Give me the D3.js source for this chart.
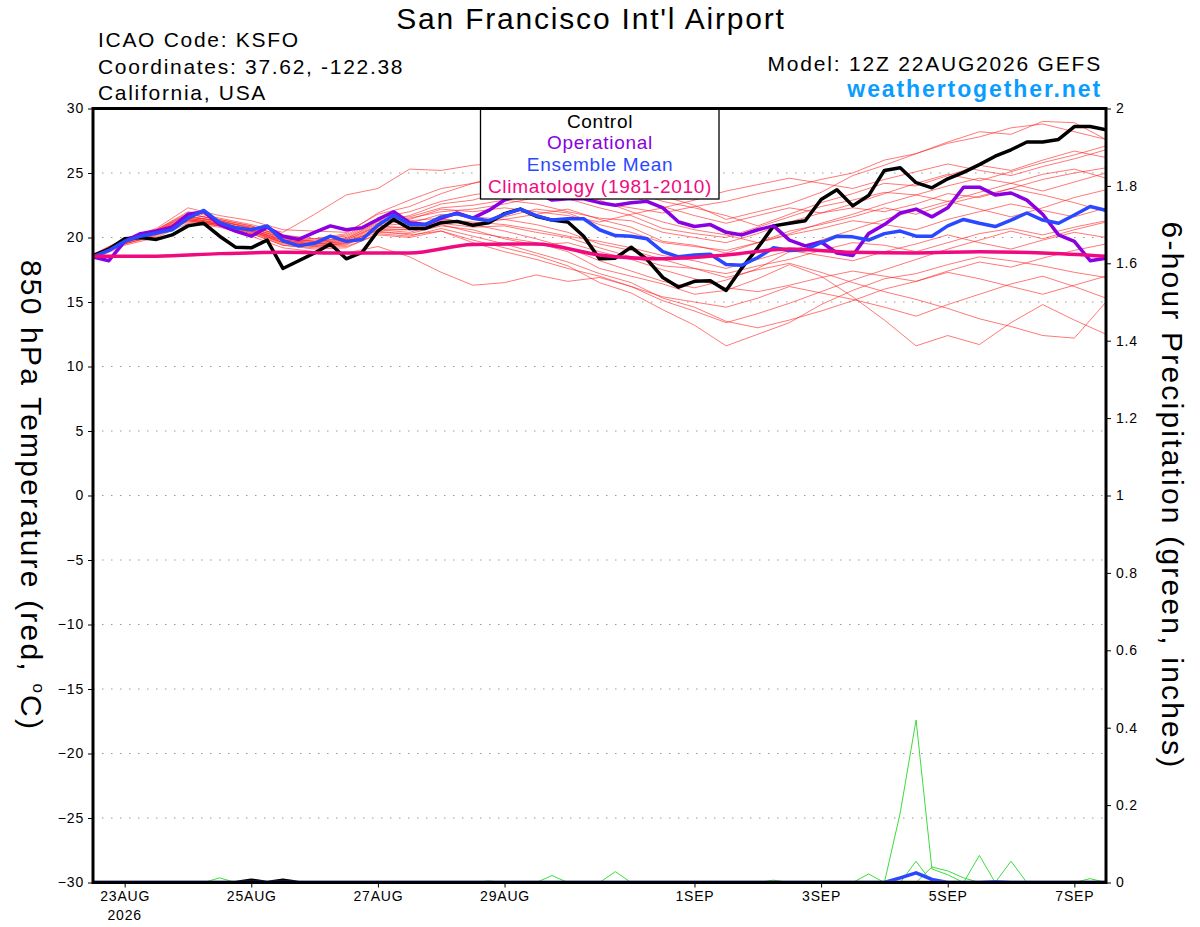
<!doctype html>
<html lang="en">
<head>
<meta charset="utf-8">
<title>San Francisco Int'l Airport - GEFS</title>
<style>
  body{margin:0;background:#fff;}
  svg text{font-family:"Liberation Sans", Arial, Helvetica, sans-serif;}
</style>
</head>
<body>
<script src="https://cdn.jsdelivr.net/npm/d3@7/dist/d3.min.js"></script>
<script>

// run start, every series counts steps from here
var runStart = "2026-08-22T12:00:00Z";

// 850 hPa temperature, 6-hourly (65 steps)
var control = [18.6,19.1,19.9,20.0,19.85,20.2,20.9,21.1,20.1,19.25,19.2,19.8,17.6,18.2,18.8,19.5,18.35,18.85,20.5,21.4,
  20.7,20.7,21.15,21.25,20.95,21.15,21.85,22.2,21.65,21.35,21.2,20.1,18.35,18.4,19.25,18.3,16.9,16.15,16.6,16.65,
  15.9,17.65,19.2,20.9,21.1,21.3,22.95,23.7,22.45,23.25,25.2,25.4,24.25,23.85,24.55,25.05,25.65,26.3,26.8,27.4,
  27.4,27.6,28.6,28.6,28.35];

var operational = [18.5,18.2,19.7,20.3,20.5,20.8,21.8,22.0,21.0,20.5,20.1,20.8,20.1,19.85,20.4,20.9,20.6,20.75,21.4,22.0,
  21.15,21.0,21.5,21.9,21.5,22.1,22.9,23.3,23.5,22.9,23.0,23.0,22.7,22.5,22.7,22.8,22.3,21.2,20.85,21.0,
  20.4,20.2,20.6,20.9,19.8,19.35,19.65,18.8,18.6,20.3,21.0,21.9,22.2,21.6,22.3,23.9,23.9,23.3,23.45,22.9,
  21.8,20.2,19.7,18.2,18.4];

var ensMean = [18.5,19.0,19.7,20.1,20.35,20.6,21.5,22.1,21.15,20.75,20.6,20.9,19.75,19.35,19.55,20.1,19.7,19.85,20.95,21.75,
  21.0,21.0,21.6,21.85,21.5,21.3,21.8,22.2,21.7,21.35,21.45,21.45,20.6,20.15,20.1,19.9,18.9,18.5,18.65,18.7,
  17.9,17.85,18.45,19.2,19.0,19.05,19.6,20.1,20.05,19.8,20.3,20.5,20.1,20.1,20.9,21.4,21.1,20.85,21.35,21.9,
  21.35,21.1,21.75,22.4,22.1];

// 1981-2010 climatology, once a day
var climatology = [18.55,18.55,18.75,18.85,18.8,18.8,19.45,19.5,18.65,18.35,18.65,19.1,18.85,18.8,18.9,18.8,18.55];

// ensemble members, 12-hourly (33 steps each)
var members = [
  [18.6,19.9,20.6,22.0,21.5,21.0,20.4,21.8,23.3,23.8,25.3,25.2,25.6,25.8,25.2,24.6,24.9,24.0,23.2,22.5,21.4,22.0,22.6,23.5,24.8,25.6,26.5,27.3,27.8,28.5,28.8,28.2,27.6],
  [18.4,19.5,20.2,21.3,20.9,20.3,19.4,19.2,19.3,20.2,20.0,20.5,19.8,19.2,18.6,17.8,16.5,15.7,14.4,13.2,11.6,12.5,13.4,14.8,15.9,16.8,17.2,17.9,18.5,18.2,17.8,17.3,16.9],
  [18.5,19.8,20.5,21.8,21.4,20.9,20.1,19.9,20.1,21.4,21.6,22.3,22.5,22.9,22.6,22.0,21.5,21.3,20.4,20.0,19.6,20.3,21.2,21.9,22.3,22.0,22.6,23.4,23.1,23.8,24.5,25.0,25.4],
  [18.3,19.4,20.0,21.1,20.8,20.1,19.2,18.9,18.8,19.3,18.5,17.3,16.3,16.5,17.1,16.6,16.9,16.2,15.4,15.0,14.6,15.3,16.2,15.7,15.2,14.6,13.9,14.8,15.6,16.4,17.0,16.2,15.3],
  [18.6,19.9,20.7,22.3,21.7,21.3,20.6,20.5,20.4,21.8,22.4,23.4,24.2,24.9,25.6,25.3,24.4,23.6,22.8,22.3,21.7,20.9,21.8,22.7,23.4,24.2,24.0,24.8,25.6,25.2,26.0,26.7,26.2],
  [18.5,19.6,20.3,21.4,21.0,20.5,19.7,19.4,19.5,20.7,20.6,21.0,20.4,20.0,19.6,18.9,17.6,17.0,16.4,15.6,15.9,16.8,17.9,17.0,15.4,13.6,11.6,12.4,11.7,13.4,14.8,13.6,12.5],
  [18.4,19.6,20.3,21.2,20.9,20.4,19.5,19.3,19.6,20.6,20.4,21.1,20.8,20.9,20.4,20.0,19.2,18.5,17.8,17.6,17.2,17.8,18.3,19.0,19.6,19.4,18.9,19.6,20.3,20.7,20.2,20.8,21.3],
  [18.6,19.8,20.4,21.6,21.3,20.8,19.9,19.7,19.9,21.1,21.5,22.0,22.2,22.6,23.1,23.4,22.7,22.3,21.9,22.4,22.8,23.4,23.9,24.5,25.0,26.0,26.5,27.4,28.2,28.0,29.0,28.9,27.6],
  [18.5,19.7,20.4,21.5,21.1,20.6,19.8,19.6,19.8,21.0,21.3,21.5,21.0,20.5,19.9,19.2,18.2,17.4,16.6,16.1,16.7,17.6,18.9,19.8,20.6,21.4,22.1,22.8,22.2,21.6,22.3,23.1,23.7],
  [18.7,19.9,20.6,21.9,21.3,20.7,20.0,19.8,20.2,21.5,22.0,22.8,23.3,23.7,23.5,23.0,22.3,21.7,20.7,20.3,20.0,20.8,21.6,22.4,22.9,23.5,23.3,24.0,24.6,24.2,23.6,24.3,25.0],
  [18.4,19.5,20.1,21.3,20.9,20.3,19.4,19.1,19.2,20.3,20.1,20.7,20.1,19.5,18.8,18.1,17.2,16.5,15.3,14.6,13.5,13.0,13.6,14.3,15.1,16.0,16.6,17.3,16.8,16.2,15.6,16.3,17.0],
  [18.5,19.7,20.3,21.6,21.2,20.6,19.8,19.5,19.7,20.9,21.1,21.8,21.6,21.4,21.8,22.2,21.4,20.8,19.7,19.4,18.8,19.6,20.5,21.0,21.6,22.3,21.8,22.6,23.2,23.8,23.3,22.7,22.0],
  [18.6,19.8,20.4,21.4,21.0,20.5,19.6,19.4,19.5,20.4,20.3,20.9,20.6,19.9,19.4,19.6,18.9,18.3,17.5,16.8,16.1,15.8,16.3,16.9,17.4,17.0,16.6,17.4,18.1,17.7,18.4,19.0,19.5],
  [18.5,19.8,20.6,21.8,21.4,20.9,20.0,19.7,19.9,21.2,21.7,22.6,22.9,23.6,24.3,24.8,24.0,23.2,22.4,21.7,21.1,21.7,22.3,21.9,22.6,23.4,24.2,24.9,24.4,25.1,25.8,26.4,27.1],
  [18.4,19.5,20.2,21.3,21.0,20.5,19.6,19.3,19.4,20.6,20.6,21.2,21.1,21.4,21.0,20.4,19.5,19.0,18.3,17.6,16.9,17.5,18.0,17.3,16.5,15.8,15.2,14.5,13.7,13.1,12.4,12.2,15.0],
  [18.5,19.6,20.3,21.4,21.0,20.4,19.6,19.5,19.6,20.8,20.8,21.4,21.2,21.0,20.6,20.1,19.7,19.2,18.6,18.2,17.6,18.3,19.0,18.6,18.2,18.9,19.5,20.2,19.6,19.1,19.8,20.4,20.0],
  [18.6,19.9,20.5,21.7,21.2,20.8,20.2,19.9,20.3,21.9,22.9,23.8,24.2,24.6,24.1,23.6,22.9,22.0,21.2,20.6,20.2,19.6,20.3,21.1,21.8,22.6,23.3,22.8,23.5,24.2,24.9,25.3,24.6],
  [18.5,19.7,20.3,21.5,21.1,20.6,19.7,19.5,19.7,20.5,20.2,20.5,19.6,18.9,18.3,17.6,17.0,16.2,15.1,14.3,13.4,14.1,14.9,15.8,16.7,17.5,18.3,19.1,19.8,20.5,19.9,20.6,21.2],
  [18.6,19.8,20.5,21.6,21.3,20.7,19.9,19.7,20.0,21.3,21.4,22.2,22.0,22.3,22.0,21.7,21.2,21.8,22.3,22.9,23.6,24.1,24.6,24.2,23.8,24.5,25.1,25.7,25.2,24.8,25.5,26.1,26.8],
  [18.5,19.7,20.4,21.5,21.1,20.6,19.8,19.6,19.8,20.9,20.7,21.3,21.0,21.6,22.2,21.9,21.0,20.4,19.6,19.3,19.0,19.6,20.2,20.7,21.3,21.0,20.6,21.4,22.0,22.6,22.1,21.6,22.3]
];

// 6-hour precipitation (inches), 6-hourly, 65 steps; only members that had any
var precipA = [0,0,0,0,0,0,0,0,0.012,0,0,0,0,
  0,0,0,0,0,0,0,0,0,0,0,0,0,
  0,0,0,0,0,0,0,0.028,0,0,0,0,0,
  0,0,0,0,0,0,0,0,0,0,0.022,0,0,
  0,0,0,0,0.07,0,0,0,0,0,0,0,0];
var precipB = [0,0,0,0,0,0,0,0,0,0,0,0,0,
  0,0,0,0,0,0,0,0,0,0,0,0,0.004,
  0,0,0,0.018,0,0,0,0,0,0,0,0,0,
  0,0,0,0,0.006,0,0,0,0,0,0,0,0,
  0.055,0,0,0,0,0,0.055,0,0,0,0,0,0];
var precipC = [0,0,0,0,0,0,0,0,0,0,0,0,0,
  0,0,0,0,0,0,0,0,0,0,0,0,0,
  0,0,0,0,0,0,0,0,0,0,0,0,0,
  0,0,0,0,0,0,0,0,0,0,0,0,0.18,
  0.42,0.035,0.02,0,0,0,0,0,0,0,0,0,0];
var precipD = [0,0,0,0,0,0,0,0,0,0,0,0,0,
  0,0,0,0,0,0,0,0,0,0,0,0,0,
  0,0,0,0,0,0,0,0,0,0,0,0,0,
  0,0,0,0,0,0,0,0,0,0,0,0,0,
  0,0.04,0.03,0.012,0,0,0,0,0,0,0,0.01,0];
var precipMean = [0,0,0,0,0,0,0,0,0,0,0,0,0,
  0,0,0,0,0,0,0,0,0,0,0,0,0,
  0,0,0,0,0,0,0,0,0,0,0,0,0,
  0,0,0,0,0,0,0,0,0,0,0,0,0.012,
  0.025,0.008,0,0,0,0.002,0,0,0,0,0,0,0];
var precipControl = [0,0,0,0,0,0,0,0,0,0,0.006,0,0.006,
  0,0,0,0,0,0,0,0,0,0,0,0,0,
  0,0,0,0,0,0,0,0,0,0,0,0,0,
  0,0,0,0,0,0,0,0,0,0,0,0,0,
  0,0,0,0,0,0,0,0,0,0,0,0,0];

// axis ticks
var tempTicks = [-30,-25,-20,-15,-10,-5,0,5,10,15,20,25,30];
var precipTicks = [0,0.2,0.4,0.6,0.8,1,1.2,1.4,1.6,1.8,2];
var tickDays = ["2026-08-23","2026-08-25","2026-08-27","2026-08-29","2026-09-01","2026-09-03","2026-09-05","2026-09-07"];
var tickLabels = ["23AUG","25AUG","27AUG","29AUG","1SEP","3SEP","5SEP","7SEP"];


var margin = {top:108.5, right:94, bottom:44.5, left:93},
    width  = 1200 - margin.left - margin.right,
    height = 927 - margin.top - margin.bottom;

var svg = d3.select("body")
  .append("svg")
  .attr("width", 1200)
  .attr("height", 927);

var chart = svg.append("g")
  .attr("transform", "translate(" + margin.left + "," + margin.top + ")");

var t0 = new Date(runStart);
function stepTime(i, hours){ return d3.utcHour.offset(t0, i * hours); }

var x = d3.scaleUtc()
  .domain([t0, stepTime(control.length - 1, 6)])
  .range([0, width]);

var yT = d3.scaleLinear().domain([-30, 30]).range([height, 0]);
var yP = d3.scaleLinear().domain([0, 2]).range([height, 0]);

function lineOf(hours, scale){
  return d3.line()
    .x(function(d, i){ return x(stepTime(i, hours)); })
    .y(function(d){ return scale(d); });
}

chart.append("clipPath").attr("id", "plotclip")
  .append("rect").attr("width", width).attr("height", height);

// dotted grid on the temperature ticks
chart.selectAll(".grid")
  .data(tempTicks.filter(function(v){ return v > -30 && v < 30; }))
  .enter()
  .append("line")
  .attr("class", "grid")
  .attr("x1", 0).attr("x2", width)
  .attr("y1", function(d){ return yT(d); })
  .attr("y2", function(d){ return yT(d); })
  .attr("stroke", "#9a9a9a")
  .attr("stroke-width", 1)
  .attr("stroke-dasharray", "1.5,7.5");

var plot = chart.append("g").attr("clip-path", "url(#plotclip)");

// ensemble members
plot.selectAll(".member")
  .data(members)
  .enter()
  .append("path")
  .attr("class", "member")
  .attr("d", lineOf(12, yT))
  .attr("fill", "none")
  .attr("stroke", "#ff2020")
  .attr("stroke-opacity", 0.6)
  .attr("stroke-width", 1);

// precip members
plot.selectAll(".pmember")
  .data([precipA, precipB, precipC, precipD])
  .enter()
  .append("path")
  .attr("class", "pmember")
  .attr("d", lineOf(6, yP))
  .attr("fill", "none")
  .attr("stroke", "#3ddc3d")
  .attr("stroke-width", 1);

function thick(data, hours, scale, color, curve){
  var ln = lineOf(hours, scale);
  if (curve) ln.curve(curve);
  plot.append("path")
    .datum(data)
    .attr("d", ln)
    .attr("fill", "none")
    .attr("stroke", color)
    .attr("stroke-width", 3.5)
    .attr("stroke-linejoin", "round")
    .attr("stroke-linecap", "round");
}

thick(precipControl, 6, yP, "#000000");
thick(precipMean, 6, yP, "#2a48ff");
thick(control, 6, yT, "#000000");
thick(operational, 6, yT, "#8a00e0");
thick(ensMean, 6, yT, "#2a48ff");
thick(climatology, 24, yT, "#f00a80", d3.curveMonotoneX);

// legend box
var legend = chart.append("g");
legend.append("rect")
  .attr("x", 387.5).attr("y", 0)
  .attr("width", 238.5).attr("height", 90.5)
  .attr("fill", "#fff")
  .attr("stroke", "#000")
  .attr("stroke-width", 1.3);

var legendNames  = ["Control", "Operational", "Ensemble Mean", "Climatology (1981-2010)"];
var legendColors = ["#000000", "#8a00e0", "#2a48ff", "#f00a80"];
legend.selectAll("text")
  .data(legendNames)
  .enter()
  .append("text")
  .attr("x", 507)
  .attr("y", function(d, i){ return 19 + i * 21.8; })
  .attr("text-anchor", "middle")
  .attr("fill", function(d, i){ return legendColors[i]; })
  .style("font-size", "19px")
  .style("letter-spacing", "0.7px")
  .text(function(d){ return d; });

// frame
chart.append("rect")
  .attr("width", width).attr("height", height)
  .attr("fill", "none")
  .attr("stroke", "#000")
  .attr("stroke-width", 3);

// axes
var leftAxis = chart.append("g")
  .call(d3.axisLeft(yT).tickValues(tempTicks).tickSize(5).tickPadding(4));

var rightAxis = chart.append("g")
  .attr("transform", "translate(" + width + ",0)")
  .call(d3.axisRight(yP).tickValues(precipTicks).tickFormat(d3.format("~g")).tickSize(5).tickPadding(5));

var bottomAxis = chart.append("g")
  .attr("transform", "translate(0," + height + ")")
  .call(d3.axisBottom(x)
    .tickValues(tickDays.map(function(d){ return new Date(d + "T00:00:00Z"); }))
    .tickFormat(function(d, i){ return tickLabels[i]; })
    .tickSize(5).tickPadding(4));

[leftAxis, rightAxis, bottomAxis].forEach(function(a){
  a.select(".domain").remove();
  a.selectAll("text")
    .style("font-size", "14px")
    .style("letter-spacing", "0.8px")
    .attr("fill", "#000");
  a.selectAll("line").attr("stroke", "#000");
});

bottomAxis.append("text")
  .attr("x", x(new Date(tickDays[0] + "T00:00:00Z")))
  .attr("y", 37)
  .attr("text-anchor", "middle")
  .attr("fill", "#000")
  .style("font-size", "14px")
  .style("letter-spacing", "0.8px")
  .text("2026");

// header
svg.append("text")
  .attr("x", 591).attr("y", 29)
  .attr("text-anchor", "middle")
  .style("font-size", "30px")
  .style("letter-spacing", "1.8px")
  .text("San Francisco Int'l Airport");

var info = ["ICAO Code: KSFO", "Coordinates: 37.62, -122.38", "California, USA"];
svg.selectAll(".info")
  .data(info)
  .enter()
  .append("text")
  .attr("class", "info")
  .attr("x", 98)
  .attr("y", function(d, i){ return 47 + i * 26.7; })
  .style("font-size", "21px")
  .style("letter-spacing", "1.7px")
  .text(function(d){ return d; });

svg.append("text")
  .attr("x", 1102).attr("y", 71)
  .attr("text-anchor", "end")
  .style("font-size", "21px")
  .style("letter-spacing", "1.8px")
  .text("Model: 12Z 22AUG2026 GEFS");

svg.append("text")
  .attr("x", 1102).attr("y", 97)
  .attr("text-anchor", "end")
  .attr("fill", "#0a9cff")
  .style("font-size", "23px")
  .style("font-weight", "bold")
  .style("letter-spacing", "1.9px")
  .text("weathertogether.net");

// axis titles, both read top to bottom
var leftTitle = svg.append("text")
  .attr("transform", "translate(21," + (margin.top + height / 2) + ") rotate(90)")
  .attr("text-anchor", "middle")
  .style("font-size", "30px")
  .style("letter-spacing", "2.2px");
leftTitle.append("tspan").text("850 hPa Temperature (red, ");
leftTitle.append("tspan").attr("dy", -12).style("font-size", "17px").text("o");
leftTitle.append("tspan").attr("dy", 12).text("C)");

svg.append("text")
  .attr("transform", "translate(1162," + (margin.top + height / 2) + ") rotate(90)")
  .attr("text-anchor", "middle")
  .style("font-size", "30px")
  .style("letter-spacing", "2.2px")
  .text("6-hour Precipitation (green, inches)");

</script>
</body>
</html>
